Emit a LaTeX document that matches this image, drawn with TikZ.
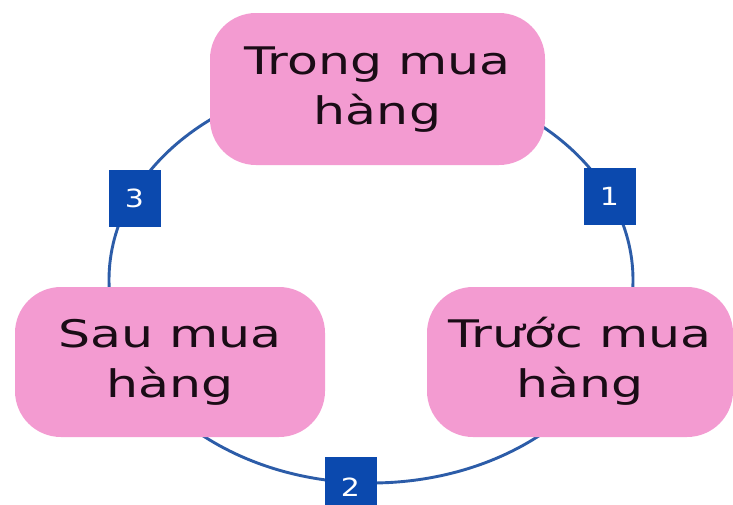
\documentclass[tikz,border=0pt]{standalone}
\usepackage{fontspec}
\usepackage{graphicx}
\setmainfont{DejaVu Sans}
\definecolor{petal}{HTML}{F39BD1}
\definecolor{ring}{HTML}{2C5CA8}
\definecolor{badge}{HTML}{0B49AE}
\definecolor{ink}{HTML}{1A0C16}
% two-line label, widened to the wide lettering of the cycle
\newcommand\phase[1]{\scalebox{1.33}[1]{\fontsize{38}{50}\selectfont\begin{tabular}{@{}c@{}}#1\end{tabular}}}
\newcommand\numtag[1]{\scalebox{1.2}[1]{\fontsize{25}{25}\selectfont #1}}
\begin{document}
\begin{tikzpicture}[x=1pt,y=-1pt,
  stage/.style={fill=petal,rounded corners=46pt,text=ink,inner sep=0pt},
  tag/.style={fill=badge,text=white,inner sep=0pt,minimum width=52pt,minimum height=57pt}]
  \useasboundingbox[fill=white] (0,0) rectangle (733,504);
  \coordinate (hub) at (371,280);
  % the cycle itself
  \draw[ring,line width=2.9pt] (hub) ellipse [x radius=262, y radius=203];
  % the three stages
  \node[stage,minimum width=335pt,minimum height=152pt] (during) at (377.5,89) {\phase{Trong mua\\hàng}};
  \node[stage,minimum width=310pt,minimum height=150pt] (after) at (170,362) {\phase{Sau mua\\hàng}};
  \node[stage,minimum width=306pt,minimum height=150pt] (before) at (580,362) {\phase{Trước mua\\hàng}};
  % step numbers on the ring
  \node[tag] (t1) at (609.5,196) {\numtag{1}};
  \node[tag,minimum height=60pt] (t2) at (350.5,487) {\numtag{2}};
  \node[tag] (t3) at (134.5,198) {\numtag{3}};
\end{tikzpicture}
\end{document}
